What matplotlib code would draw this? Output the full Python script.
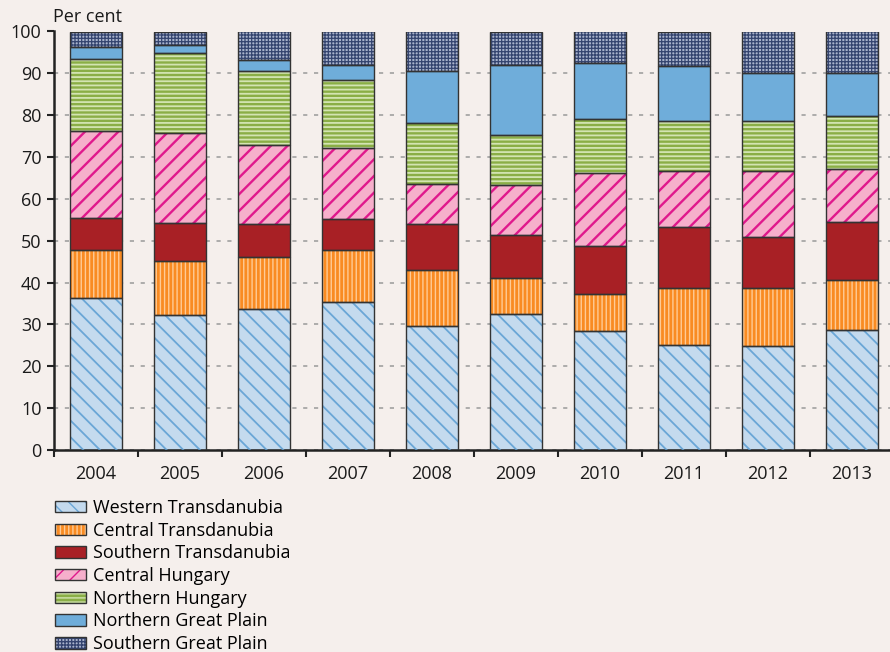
import numpy as np
import matplotlib
matplotlib.use('Agg')
import matplotlib.pyplot as plt
from matplotlib.patches import Patch
from matplotlib.legend_handler import HandlerTuple

years = ['2004', '2005', '2006', '2007', '2008', '2009', '2010', '2011', '2012', '2013']
regions = ['Western Transdanubia', 'Central Transdanubia', 'Southern Transdanubia',
           'Central Hungary', 'Northern Hungary', 'Northern Great Plain', 'Southern Great Plain']

western_transdanubia = [36.3, 32.3, 33.8, 35.4, 29.6, 32.5, 28.4, 25.1, 24.8, 28.6]
central_transdanubia = [11.6, 12.8, 12.2, 12.5, 13.3, 8.5, 8.9, 13.5, 14.0, 12.1]
southern_transdanubia = [7.6, 9.1, 7.9, 7.2, 11.0, 10.4, 11.5, 14.6, 12.0, 13.8]
central_hungary = [20.7, 21.5, 18.9, 17.0, 9.7, 11.9, 17.5, 13.5, 15.9, 12.7]
northern_hungary = [17.3, 19.1, 17.7, 16.3, 14.5, 11.9, 12.7, 11.9, 11.9, 12.6]
northern_great_plain = [2.8, 1.9, 2.6, 3.7, 12.4, 16.7, 13.5, 13.1, 11.6, 10.4]
southern_great_plain = [3.7, 3.3, 6.9, 7.9, 9.5, 8.1, 7.5, 8.3, 9.8, 9.8]

series = [western_transdanubia, central_transdanubia, southern_transdanubia,
          central_hungary, northern_hungary, northern_great_plain, southern_great_plain]

# face colour, hatch colour, hatch pattern, hatch linewidth
styles = [
    ('#C4DAEE', '#6AA6D6', '\\\\', 1.3),
    ('#F98B22', '#FFCB96', '||||', 1.0),
    ('#A82025', None, None, 1.0),
    ('#F6AFCB', '#E0188C', '//', 1.7),
    ('#8AAE46', '#D3E4B2', '----', 1.3),
    ('#6FADDA', None, None, 1.0),
    ('#A9B3CC', '#34446F', '+++++', 0.9),
]

bg = '#F5EFEC'
plt.rcParams['font.family'] = ['Open Sans', 'DejaVu Sans']
plt.rcParams['font.size'] = 13

fig = plt.figure(figsize=(8.9, 6.52), dpi=100, facecolor=bg)
ax = fig.add_axes([54 / 890, 202 / 652, 840 / 890, 418.5 / 652])
ax.set_facecolor(bg)

x = np.arange(len(years))
width = 0.62
bottom = np.zeros(len(years))
handles = []
for vals, (face, hcol, hatch, hlw) in zip(series, styles):
    vals = np.array(vals)
    ax.bar(x, vals, width, bottom=bottom, color=face, edgecolor='none', zorder=2)
    parts = [Patch(facecolor=face, edgecolor='none')]
    if hatch:
        with plt.rc_context({'hatch.linewidth': hlw}):
            ax.bar(x, vals, width, bottom=bottom, color='none', edgecolor=hcol,
                   hatch=hatch, linewidth=0, zorder=3)
            parts.append(Patch(facecolor='none', edgecolor=hcol, hatch=hatch, linewidth=0))
    ax.bar(x, vals, width, bottom=bottom, color='none', edgecolor='#333333',
           linewidth=1.0, zorder=4)
    parts.append(Patch(facecolor='none', edgecolor='#333333', linewidth=1.0))
    handles.append(tuple(parts))
    bottom += vals

ax.set_xlim(-0.5, len(years) - 0.5)
ax.set_ylim(0, 100)
ax.set_yticks(np.arange(0, 101, 10))
ax.yaxis.grid(True, linestyle=(0, (2.5, 4)), color='#A0A0A0', linewidth=1.2, zorder=0)
ax.set_axisbelow(True)

ax.set_xticks(np.arange(len(years) + 1) - 0.5)
ax.set_xticklabels([])
ax.set_xticks(x, minor=True)
ax.set_xticklabels(years, minor=True)
ax.tick_params(axis='x', which='major', direction='out', length=5, width=1.5, color='#222222')
ax.tick_params(axis='x', which='minor', length=0, pad=11, labelsize=13, labelcolor='#1a1a1a')
ax.tick_params(axis='y', direction='out', length=5, width=1.5, color='#222222', pad=4,
               labelsize=13, labelcolor='#1a1a1a')

for s in ['top', 'right']:
    ax.spines[s].set_visible(False)
for s in ['left', 'bottom']:
    ax.spines[s].set_linewidth(1.8)
    ax.spines[s].set_color('#222222')

fig.text(53 / 890, 1 - 17 / 652, 'Per cent', ha='left', va='center', fontsize=13, color='#1a1a1a')

fig.legend(handles, regions, handler_map={tuple: HandlerTuple(ndivide=1, pad=0)},
           loc='upper left', bbox_to_anchor=(55 / 890, 1 - 499 / 652), frameon=False,
           handlelength=1.72, handleheight=0.6, handletextpad=0.4, labelspacing=0.26,
           borderpad=0, borderaxespad=0, fontsize=13)

fig.savefig('out.png', dpi=100, facecolor=bg)
